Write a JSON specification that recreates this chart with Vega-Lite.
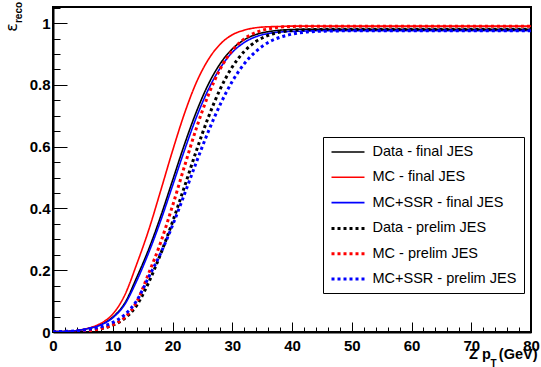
{
  "$schema": "https://vega.github.io/schema/vega-lite/v6.json",
  "width": 478,
  "height": 325,
  "autosize": {"type": "none"},
  "padding": {"left": 53, "top": 7, "right": 10, "bottom": 35},
  "background": "white",
  "config": {
    "view": {"stroke": "black", "strokeWidth": 2},
    "font": "Liberation Sans",
    "axis": {"grid": false, "tickColor": "black", "domainColor": "black", "labelColor": "black", "titleColor": "black", "labelFlush": false, "labelOverlap": false, "labelBound": false}
  },
  "data": {
    "values": [
      {"x": 0, "Data - final JES": 0.001, "MC - final JES": 0.001, "MC+SSR - final JES": 0.001, "Data - prelim JES": 0.0, "MC - prelim JES": 0.0, "MC+SSR - prelim JES": 0.001},
      {"x": 2, "Data - final JES": 0.002, "MC - final JES": 0.002, "MC+SSR - final JES": 0.002, "Data - prelim JES": 0.001, "MC - prelim JES": 0.001, "MC+SSR - prelim JES": 0.002},
      {"x": 4, "Data - final JES": 0.005, "MC - final JES": 0.005, "MC+SSR - final JES": 0.005, "Data - prelim JES": 0.002, "MC - prelim JES": 0.002, "MC+SSR - prelim JES": 0.004},
      {"x": 6, "Data - final JES": 0.012, "MC - final JES": 0.013, "MC+SSR - final JES": 0.012, "Data - prelim JES": 0.005, "MC - prelim JES": 0.004, "MC+SSR - prelim JES": 0.009},
      {"x": 8, "Data - final JES": 0.024, "MC - final JES": 0.028, "MC+SSR - final JES": 0.023, "Data - prelim JES": 0.011, "MC - prelim JES": 0.011, "MC+SSR - prelim JES": 0.017},
      {"x": 10, "Data - final JES": 0.048, "MC - final JES": 0.058, "MC+SSR - final JES": 0.046, "Data - prelim JES": 0.022, "MC - prelim JES": 0.023, "MC+SSR - prelim JES": 0.031},
      {"x": 12, "Data - final JES": 0.093, "MC - final JES": 0.119, "MC+SSR - final JES": 0.089, "Data - prelim JES": 0.044, "MC - prelim JES": 0.047, "MC+SSR - prelim JES": 0.056},
      {"x": 14, "Data - final JES": 0.176, "MC - final JES": 0.219, "MC+SSR - final JES": 0.165, "Data - prelim JES": 0.086, "MC - prelim JES": 0.097, "MC+SSR - prelim JES": 0.101},
      {"x": 16, "Data - final JES": 0.267, "MC - final JES": 0.329, "MC+SSR - final JES": 0.256, "Data - prelim JES": 0.16, "MC - prelim JES": 0.189, "MC+SSR - prelim JES": 0.177},
      {"x": 18, "Data - final JES": 0.373, "MC - final JES": 0.456, "MC+SSR - final JES": 0.359, "Data - prelim JES": 0.252, "MC - prelim JES": 0.289, "MC+SSR - prelim JES": 0.254},
      {"x": 20, "Data - final JES": 0.49, "MC - final JES": 0.586, "MC+SSR - final JES": 0.473, "Data - prelim JES": 0.356, "MC - prelim JES": 0.408, "MC+SSR - prelim JES": 0.345},
      {"x": 22, "Data - final JES": 0.607, "MC - final JES": 0.707, "MC+SSR - final JES": 0.588, "Data - prelim JES": 0.47, "MC - prelim JES": 0.536, "MC+SSR - prelim JES": 0.446},
      {"x": 24, "Data - final JES": 0.713, "MC - final JES": 0.808, "MC+SSR - final JES": 0.695, "Data - prelim JES": 0.587, "MC - prelim JES": 0.66, "MC+SSR - prelim JES": 0.55},
      {"x": 26, "Data - final JES": 0.802, "MC - final JES": 0.882, "MC+SSR - final JES": 0.785, "Data - prelim JES": 0.695, "MC - prelim JES": 0.767, "MC+SSR - prelim JES": 0.649},
      {"x": 28, "Data - final JES": 0.869, "MC - final JES": 0.932, "MC+SSR - final JES": 0.855, "Data - prelim JES": 0.787, "MC - prelim JES": 0.852, "MC+SSR - prelim JES": 0.737},
      {"x": 30, "Data - final JES": 0.916, "MC - final JES": 0.962, "MC+SSR - final JES": 0.905, "Data - prelim JES": 0.858, "MC - prelim JES": 0.911, "MC+SSR - prelim JES": 0.811},
      {"x": 32, "Data - final JES": 0.946, "MC - final JES": 0.977, "MC+SSR - final JES": 0.937, "Data - prelim JES": 0.908, "MC - prelim JES": 0.949, "MC+SSR - prelim JES": 0.868},
      {"x": 34, "Data - final JES": 0.963, "MC - final JES": 0.985, "MC+SSR - final JES": 0.956, "Data - prelim JES": 0.941, "MC - prelim JES": 0.97, "MC+SSR - prelim JES": 0.909},
      {"x": 36, "Data - final JES": 0.972, "MC - final JES": 0.988, "MC+SSR - final JES": 0.966, "Data - prelim JES": 0.96, "MC - prelim JES": 0.981, "MC+SSR - prelim JES": 0.937},
      {"x": 38, "Data - final JES": 0.977, "MC - final JES": 0.989, "MC+SSR - final JES": 0.971, "Data - prelim JES": 0.971, "MC - prelim JES": 0.987, "MC+SSR - prelim JES": 0.954},
      {"x": 40, "Data - final JES": 0.979, "MC - final JES": 0.99, "MC+SSR - final JES": 0.973, "Data - prelim JES": 0.976, "MC - prelim JES": 0.989, "MC+SSR - prelim JES": 0.964},
      {"x": 42, "Data - final JES": 0.98, "MC - final JES": 0.99, "MC+SSR - final JES": 0.974, "Data - prelim JES": 0.978, "MC - prelim JES": 0.99, "MC+SSR - prelim JES": 0.97},
      {"x": 44, "Data - final JES": 0.98, "MC - final JES": 0.99, "MC+SSR - final JES": 0.975, "Data - prelim JES": 0.979, "MC - prelim JES": 0.99, "MC+SSR - prelim JES": 0.973},
      {"x": 46, "Data - final JES": 0.98, "MC - final JES": 0.99, "MC+SSR - final JES": 0.975, "Data - prelim JES": 0.98, "MC - prelim JES": 0.99, "MC+SSR - prelim JES": 0.974},
      {"x": 50, "Data - final JES": 0.98, "MC - final JES": 0.99, "MC+SSR - final JES": 0.975, "Data - prelim JES": 0.98, "MC - prelim JES": 0.99, "MC+SSR - prelim JES": 0.975},
      {"x": 60, "Data - final JES": 0.98, "MC - final JES": 0.99, "MC+SSR - final JES": 0.975, "Data - prelim JES": 0.98, "MC - prelim JES": 0.99, "MC+SSR - prelim JES": 0.975},
      {"x": 70, "Data - final JES": 0.98, "MC - final JES": 0.99, "MC+SSR - final JES": 0.975, "Data - prelim JES": 0.98, "MC - prelim JES": 0.99, "MC+SSR - prelim JES": 0.975},
      {"x": 80, "Data - final JES": 0.98, "MC - final JES": 0.99, "MC+SSR - final JES": 0.975, "Data - prelim JES": 0.98, "MC - prelim JES": 0.99, "MC+SSR - prelim JES": 0.975}
    ]
  },
  "transform": [
    {"fold": ["Data - final JES", "MC - final JES", "MC+SSR - final JES", "Data - prelim JES", "MC - prelim JES", "MC+SSR - prelim JES"], "as": ["s", "y"]}
  ],
  "layer": [
    {
      "mark": {"type": "line", "interpolate": "monotone", "clip": true},
      "encoding": {
        "x": {
          "field": "x", "type": "quantitative",
          "scale": {"domain": [0, 80], "nice": false, "zero": false},
          "axis": {
            "orient": "bottom",
            "values": [0, 10, 20, 30, 40, 50, 60, 70, 80],
            "tickSize": -10, "tickWidth": 1,
            "domainWidth": 2,
            "labelFont": "Liberation Sans", "labelFontWeight": "bold", "labelFontSize": 15,
            "labelPadding": 16, "labelBaseline": "top",
            "title": "Z p\u00a0\u00a0(GeV)",
            "titleFont": "Liberation Sans", "titleFontWeight": "bold", "titleFontSize": 14.5,
            "titleAlign": "right", "titleAnchor": "end", "titleX": 484, "titleY": 26, "titleBaseline": "alphabetic"
          }
        },
        "y": {
          "field": "y", "type": "quantitative",
          "scale": {"domain": [0, 1.052], "nice": false, "zero": false},
          "axis": {
            "orient": "left",
            "values": [0, 0.2, 0.4, 0.6, 0.8, 1],
            "format": "~g",
            "tickSize": -14, "tickWidth": 1,
            "domainWidth": 2,
            "labelFont": "Liberation Sans", "labelFontWeight": "bold", "labelFontSize": 15,
            "labelPadding": 17,
            "title": "ε",
            "titleFont": "DejaVu Sans", "titleFontWeight": "normal", "titleFontSize": 16,
            "titleAlign": "center", "titleAnchor": "end", "titleX": -37, "titleY": 20, "titleBaseline": "alphabetic", "titleAngle": -90
          }
        },
        "color": {
          "field": "s", "type": "nominal",
          "scale": {"domain": ["Data - final JES", "MC - final JES", "MC+SSR - final JES", "Data - prelim JES", "MC - prelim JES", "MC+SSR - prelim JES"], "range": ["#000000", "#ff0000", "#0000ff", "#000000", "#ff0000", "#0000ff"]},
          "legend": {
            "orient": "none", "legendX": 270, "legendY": 130,
            "title": null,
            "padding": 7,
            "strokeColor": "black", "fillColor": "white",
            "symbolType": "M-2.357,0H2.357", "symbolSize": 196, "symbolOffset": 9.5,
            "labelFont": "Liberation Sans", "labelFontSize": 14.5, "labelColor": "black", "labelOffset": 16, "labelLimit": 300,
            "rowPadding": 10.3
          }
        },
        "strokeDash": {
          "field": "s", "type": "nominal",
          "scale": {"domain": ["Data - final JES", "MC - final JES", "MC+SSR - final JES", "Data - prelim JES", "MC - prelim JES", "MC+SSR - prelim JES"], "range": [[1, 0], [1, 0], [1, 0], [3, 3], [3, 3], [3, 3]]}
        },
        "strokeWidth": {
          "field": "s", "type": "nominal",
          "scale": {"type": "ordinal", "domain": ["Data - final JES", "MC - final JES", "MC+SSR - final JES", "Data - prelim JES", "MC - prelim JES", "MC+SSR - prelim JES"], "range": [1.6, 1.6, 1.6, 3, 3, 3]}
        }
      }
    },
    {
      "mark": {"type": "point", "opacity": 0},
      "encoding": {
        "x": {
          "field": "x", "type": "quantitative",
          "axis": {
            "orient": "bottom",
            "values": [0, 2, 4, 6, 8, 10, 12, 14, 16, 18, 20, 22, 24, 26, 28, 30, 32, 34, 36, 38, 40, 42, 44, 46, 48, 50, 52, 54, 56, 58, 60, 62, 64, 66, 68, 70, 72, 74, 76, 78, 80],
            "tickSize": -5, "tickWidth": 1, "labels": false, "domain": false,
            "title": "T",
            "titleFont": "Liberation Sans", "titleFontWeight": "bold", "titleFontSize": 10,
            "titleAlign": "center", "titleAnchor": "end", "titleX": 440, "titleY": 34, "titleBaseline": "alphabetic"
          }
        },
        "y": {
          "field": "y", "type": "quantitative",
          "axis": {
            "orient": "left",
            "values": [0, 0.05, 0.1, 0.15, 0.2, 0.25, 0.3, 0.35, 0.4, 0.45, 0.5, 0.55, 0.6, 0.65, 0.7, 0.75, 0.8, 0.85, 0.9, 0.95, 1, 1.05],
            "tickSize": -7, "tickWidth": 1, "labels": false, "domain": false,
            "title": "reco",
            "titleFont": "Liberation Sans", "titleFontWeight": "bold", "titleFontSize": 10,
            "titleAlign": "center", "titleAnchor": "end", "titleX": -32, "titleY": 5, "titleBaseline": "alphabetic", "titleAngle": -90
          }
        }
      }
    }
  ],
  "resolve": {"axis": {"x": "independent", "y": "independent"}}
}
